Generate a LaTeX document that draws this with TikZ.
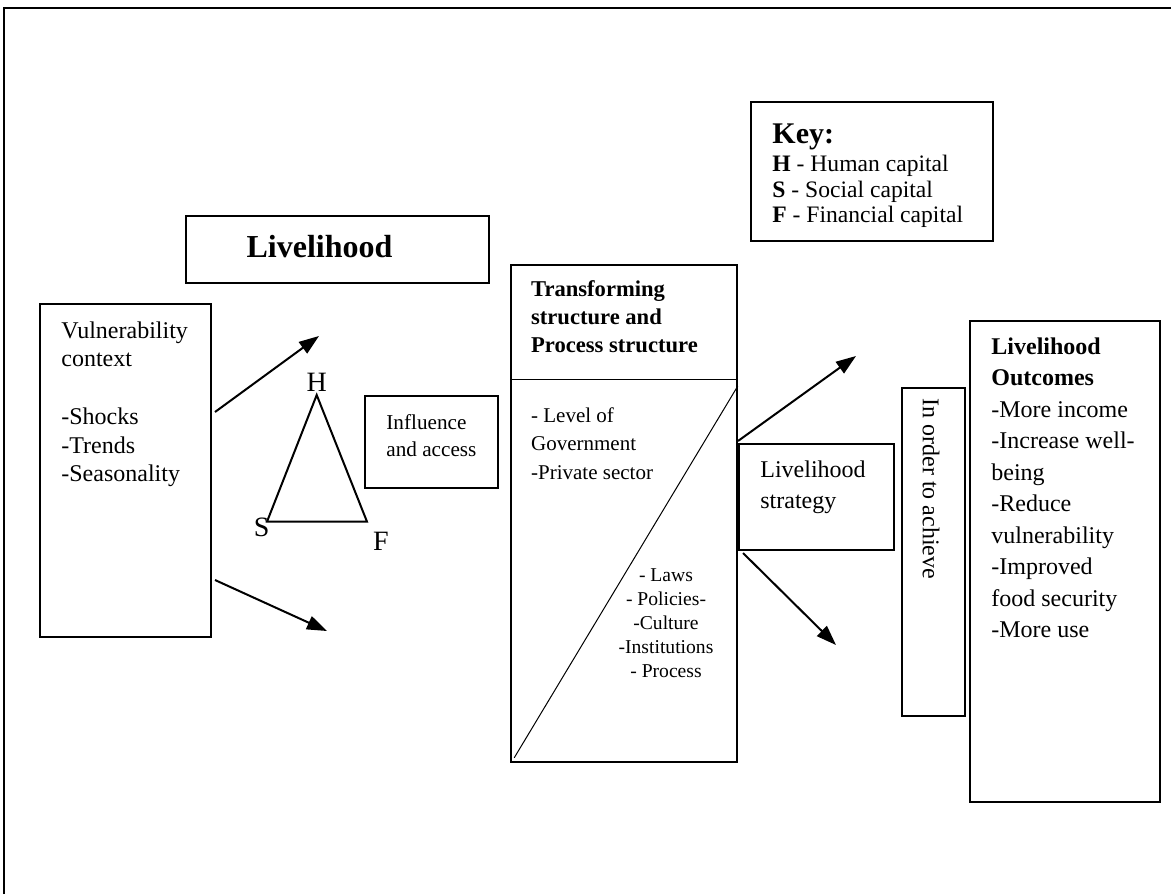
\documentclass[tikz,border=0pt]{standalone}
\usepackage{fontspec}
\setmainfont{Liberation Serif}
\usetikzlibrary{arrows.meta}

\tikzset{
  box/.style={draw, line width=0.8pt, inner sep=0pt},
  txt/.style={inner sep=0pt, anchor=north west, align=left},
  corner/.style={inner sep=0pt, anchor=base, font=\fontsize{14}{14}\selectfont},
  arr/.style={line width=1pt, -{Triangle[length=10pt,width=7pt]}}
}

\begin{document}
\begin{tikzpicture}[x=0.5pt,y=-0.5pt]
  \useasboundingbox (0,0) rectangle (1171,894);
  \draw[line width=1pt] (4,894) -- (4,7.5) -- (1171,7.5);

  \node[box, minimum width=151.5pt, minimum height=33.5pt] (lhbox) at (337.5,249.5) {};
  \node[inner sep=0pt, anchor=base, font=\fontsize{16}{16}\selectfont\bfseries] (lhtitle) at (319.5,257.3) {Livelihood};

  \node[box, minimum width=121pt, minimum height=69.5pt] (keybox) at (872,171.5) {};
  \node[txt, font=\fontsize{11.8}{12.75}\selectfont] (keytext) at (772,123.4)
    {{\fontsize{15}{15}\selectfont\bfseries Key:}\\[1.45pt]\textbf{H} - Human capital\\\textbf{S} - Social capital\\\textbf{F} - Financial capital};

  \node[box, minimum width=85.5pt, minimum height=166.5pt] (vuln) at (125.5,470.5) {};
  \node[txt, font=\fontsize{12}{14.2}\selectfont] (vulntext) at (61,321)
    {Vulnerability\\context\\[15pt]-Shocks\\-Trends\\-Seasonality};

  \coordinate (h) at (316.7,395); \coordinate (s) at (267,521.7); \coordinate (f) at (367,521.7);
  \draw[line width=1pt] (h) -- (f) -- (s) -- cycle;
  \node[corner] (hlabel) at (316.7,391.7) {H};
  \node[corner] (slabel) at (261.7,536) {S};
  \node[corner] (flabel) at (381,550) {F};

  \node[box, minimum width=66.5pt, minimum height=46pt] (infl) at (431.5,442) {};
  \node[txt, font=\fontsize{10.6}{13.35}\selectfont] (infltext) at (386,414) {Influence\\and access};

  \node[box, minimum width=113pt, minimum height=248.5pt] (trans) at (624,513.5) {};
  \draw[line width=0.5pt] (trans.west |- 0,379.3) -- (trans.east |- 0,379.3);
  \draw[line width=0.5pt] (trans.east |- 0,386) -- ([shift={(2pt,2.5pt)}]trans.south west);
  \node[txt, font=\fontsize{11.3}{13.9}\selectfont\bfseries] (transtitle) at (530.7,280.6)
    {Transforming\\structure and\\Process structure};
  \node[txt, font=\fontsize{10.5}{14.15}\selectfont] (levels) at (530.7,407.4)
    {- Level of\\Government\\-Private sector};
  \node[inner sep=0pt, anchor=north, align=center, font=\fontsize{9.8}{12}\selectfont] (laws) at (666,568.7)
    {- Laws\\- Policies-\\-Culture\\-Institutions\\- Process};

  \node[box, minimum width=77.5pt, minimum height=53pt] (strat) at (816.5,497) {};
  \node[txt, font=\fontsize{12}{15.5}\selectfont] (strattext) at (760,460.3) {Livelihood\\strategy};

  \node[box, minimum width=31.5pt, minimum height=164pt] (order) at (933.5,552) {};
  \node[inner sep=0pt, anchor=west, rotate=-90, font=\fontsize{12}{12}\selectfont] (ordertext) at (931,398) {In order to achieve};

  \node[box, minimum width=95pt, minimum height=240.5pt] (outc) at (1065,561.5) {};
  \node[txt, font=\fontsize{12}{15.75}\selectfont] (outctext) at (991,337)
    {\textbf{Livelihood}\\\textbf{Outcomes}\\-More income\\-Increase well-\\being\\-Reduce\\vulnerability\\-Improved\\food security\\-More use};

  \coordinate (v1) at (215,412); \coordinate (v1tip) at (319,336);
  \coordinate (v2) at (215,580); \coordinate (v2tip) at (327,631);
  \coordinate (s1) at (738,441); \coordinate (s1tip) at (856,356);
  \coordinate (s2) at (743,553); \coordinate (s2tip) at (836,645);
  \draw[arr] (v1) -- (v1tip);
  \draw[arr] (v2) -- (v2tip);
  \draw[arr] (s1) -- (s1tip);
  \draw[arr] (s2) -- (s2tip);
\end{tikzpicture}
\end{document}
